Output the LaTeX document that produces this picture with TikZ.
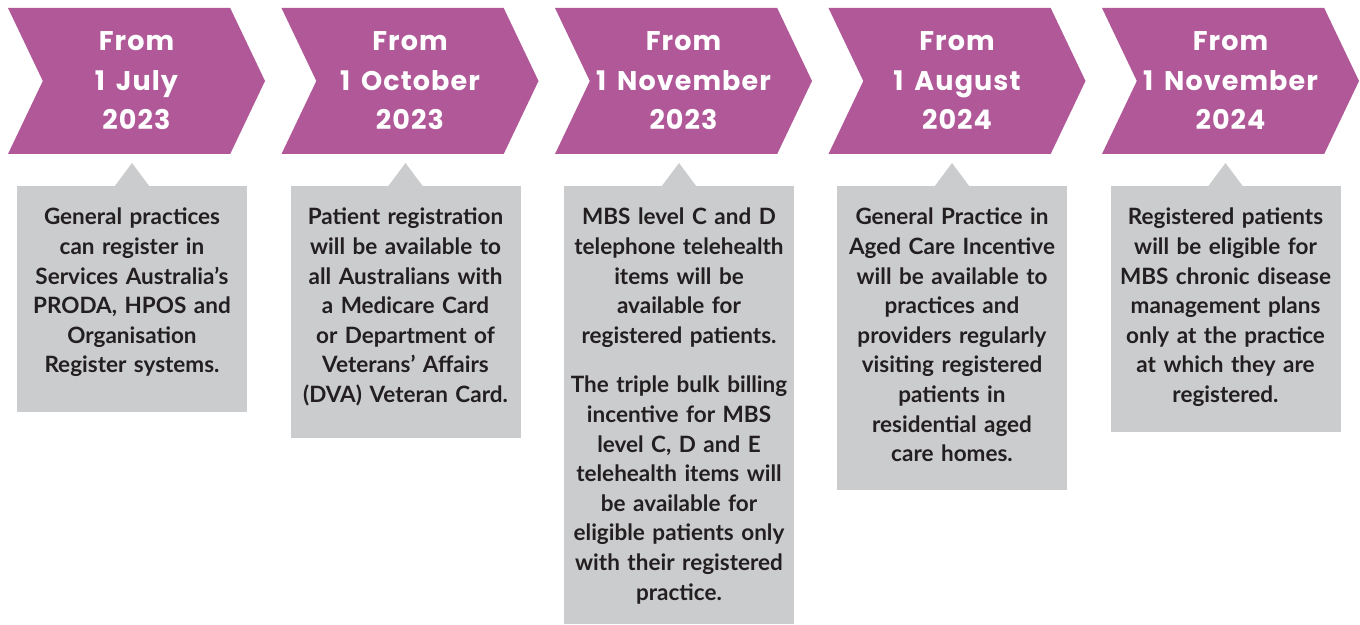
\documentclass[tikz,border=0pt]{standalone}
\usepackage{fontspec}
\setmainfont{Lato}
\newfontfamily\headfont[LetterSpace=4,WordSpace=1.6]{Poppins}
\usetikzlibrary{shapes.symbols,positioning}
\definecolor{plum}{HTML}{B05898}
\definecolor{notegray}{HTML}{CBCCCE}
\definecolor{inkdark}{HTML}{231F20}

\begin{document}
\begin{tikzpicture}[x=1pt, y=1pt,
    datebox/.style={signal, signal from=west, signal to=east, signal pointer angle=129,
        fill=plum, minimum width=257pt, minimum height=146pt, inner sep=0pt,
        text=white, align=center, font=\headfont\bfseries\fontsize{27}{39.5}\selectfont},
    notebox/.style={rectangle, fill=notegray, minimum width=230pt, anchor=north, inner sep=0pt},
    notetext/.style={text width=226pt, align=center, inner sep=0pt, anchor=north,
        text=inkdark, font=\bfseries\fontsize{22.5}{29.6}\selectfont},
    pointer/.style={fill=notegray}
]
    \useasboundingbox (0,0) rectangle (1360,624);

    % Dates
    \node[datebox] (date1) at (136.5,543) {From\\1 July\\2023};
    \node[datebox] (date2) at (410,543) {From\\1 October\\2023};
    \node[datebox] (date3) at (683.5,543) {From\\1 November\\2023};
    \node[datebox] (date4) at (957,543) {From\\1 August\\2024};
    \node[datebox] (date5) at (1230.5,543) {From\\1 November\\2024};

    % Grey notes
    \node[notebox, minimum height=226pt] (box1) at (132,438) {};
    \node[notebox, minimum height=252pt] (box2) at (405.5,438) {};
    \node[notebox, minimum height=438pt] (box3) at (679,438) {};
    \node[notebox, minimum height=304pt] (box4) at (952,438) {};
    \node[notebox, minimum height=246pt] (box5) at (1225.5,438) {};

    % Pointers up to the dates
    \foreach \b in {box1,box2,box3,box4,box5}
        \fill[pointer] (\b.north) ++(-17.5,-0.5) -- ++(17.5,23.5) -- ++(17.5,-23.5) -- cycle;

    % Texts
    \node[notetext, below=22pt of box1.north] (text1) {General practices\\can register in\\Services Australia’s\\PRODA, HPOS and\\Organisation\\Register systems.};
    \node[notetext, below=22pt of box2.north] (text2) {Patient registration\\will be available to\\all Australians with\\a Medicare Card\\or Department of\\Veterans’ Affairs\\(DVA) Veteran Card.};
    \node[notetext, below=22pt of box3.north] (text3) {MBS level C and D\\telephone telehealth\\items will be\\available for\\registered patients.\\[20pt]The triple bulk billing\\incentive for MBS\\level C, D and E\\telehealth items will\\be available for\\eligible patients only\\with their registered\\practice.};
    \node[notetext, below=22pt of box4.north] (text4) {General Practice in\\Aged Care Incentive\\will be available to\\practices and\\providers regularly\\visiting registered\\patients in\\residential aged\\care homes.};
    \node[notetext, below=22pt of box5.north] (text5) {Registered patients\\will be eligible for\\MBS chronic disease\\management plans\\only at the practice\\at which they are\\registered.};
\end{tikzpicture}
\end{document}
